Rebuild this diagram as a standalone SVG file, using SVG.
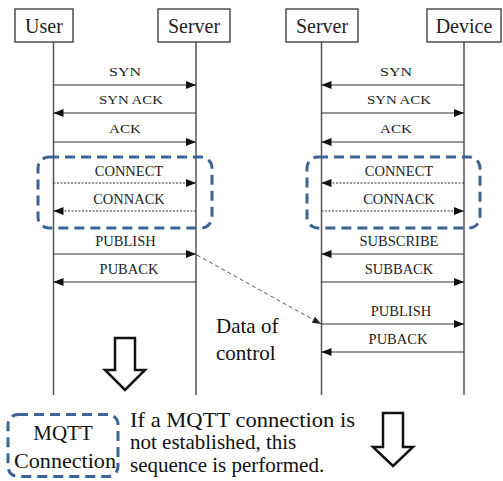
<svg xmlns="http://www.w3.org/2000/svg" width="503" height="481" viewBox="0 0 503 481" font-family="'Liberation Serif', 'Times New Roman', serif">
<style>
text{font-family:'Liberation Serif','Times New Roman',serif}
.box{fill:#fff;stroke:#333;stroke-width:1.3}
.hd{font-size:20px;fill:#222;text-anchor:middle}
.life{stroke:#555;stroke-width:1.5}
.msg{stroke:#333;stroke-width:1.2;fill:none}
.dot{stroke:#333;stroke-width:1;stroke-dasharray:2 1.5;fill:none}
.lbl{font-size:14.5px;fill:#222;text-anchor:middle}
.sm{font-size:12.5px}
.grp{fill:none;stroke:#3d6496;stroke-width:3;stroke-dasharray:10 6}
.big{font-size:21px;fill:#111}
.hollow{fill:#fff;stroke:#111;stroke-width:2.5;stroke-linejoin:miter}
</style>
<defs>
<marker id="ah" viewBox="0 0 10 8" refX="10" refY="4" markerWidth="10" markerHeight="8" markerUnits="userSpaceOnUse" orient="auto">
<path d="M0,0 L10,4 L0,8 Z" fill="#111"/>
</marker>
<marker id="ah2" viewBox="0 0 10 8" refX="10" refY="4" markerWidth="9" markerHeight="7" markerUnits="userSpaceOnUse" orient="auto">
<path d="M0,0 L10,4 L0,8 Z" fill="#222"/>
</marker>
</defs>

<g id="user">
<line class="life" x1="53.5" y1="42" x2="53.5" y2="395"/>
<rect class="box" x="15" y="9" width="58" height="33"/>
<text class="hd" x="44" y="33">User</text>
</g>
<g id="server-left">
<line class="life" x1="196" y1="42" x2="196" y2="395"/>
<rect class="box" x="158" y="9" width="72" height="33"/>
<text class="hd" x="194" y="33">Server</text>
</g>
<g id="server-right">
<line class="life" x1="321.5" y1="42" x2="321.5" y2="395"/>
<rect class="box" x="286" y="9" width="72" height="33"/>
<text class="hd" x="322" y="33">Server</text>
</g>
<g id="device">
<line class="life" x1="464" y1="42" x2="464" y2="395"/>
<rect class="box" x="427" y="9" width="74" height="33"/>
<text class="hd" x="464" y="33">Device</text>
</g>

<g id="connectors">
<line class="msg" x1="53.5" y1="85" x2="196" y2="85" marker-end="url(#ah)"/>
<line class="msg" x1="196" y1="113" x2="53.5" y2="113" marker-end="url(#ah)"/>
<line class="msg" x1="53.5" y1="142" x2="196" y2="142" marker-end="url(#ah)"/>
<line class="dot" x1="53.5" y1="183" x2="196" y2="183" marker-end="url(#ah)"/>
<line class="dot" x1="196" y1="211" x2="53.5" y2="211" marker-end="url(#ah)"/>
<line class="msg" x1="53.5" y1="254" x2="196" y2="254" marker-end="url(#ah)"/>
<line class="msg" x1="196" y1="282" x2="53.5" y2="282" marker-end="url(#ah)"/>
<line class="msg" x1="464" y1="85" x2="321.5" y2="85" marker-end="url(#ah)"/>
<line class="msg" x1="321.5" y1="113" x2="464" y2="113" marker-end="url(#ah)"/>
<line class="msg" x1="464" y1="142" x2="321.5" y2="142" marker-end="url(#ah)"/>
<line class="dot" x1="464" y1="183" x2="321.5" y2="183" marker-end="url(#ah)"/>
<line class="dot" x1="321.5" y1="211" x2="464" y2="211" marker-end="url(#ah)"/>
<line class="msg" x1="464" y1="254" x2="321.5" y2="254" marker-end="url(#ah)"/>
<line class="msg" x1="321.5" y1="282" x2="464" y2="282" marker-end="url(#ah)"/>
<line class="msg" x1="321.5" y1="324" x2="464" y2="324" marker-end="url(#ah)"/>
<line class="msg" x1="464" y1="352" x2="321.5" y2="352" marker-end="url(#ah)"/>
<line x1="197" y1="255" x2="321" y2="324" stroke="#555" stroke-width="1" stroke-dasharray="4 3" marker-end="url(#ah2)"/>
</g>

<g id="labels">
<text class="lbl sm" x="125" y="76" textLength="32" lengthAdjust="spacingAndGlyphs">SYN</text>
<text class="lbl sm" x="131" y="104" textLength="64" lengthAdjust="spacingAndGlyphs">SYN ACK</text>
<text class="lbl sm" x="125" y="133" textLength="32" lengthAdjust="spacingAndGlyphs">ACK</text>
<text class="lbl" x="129" y="175.5">CONNECT</text>
<text class="lbl" x="129" y="203.5">CONNACK</text>
<text class="lbl" x="125.5" y="245.5">PUBLISH</text>
<text class="lbl" x="129" y="273.5">PUBACK</text>

<text class="lbl sm" x="396" y="76" textLength="32" lengthAdjust="spacingAndGlyphs">SYN</text>
<text class="lbl sm" x="399" y="104" textLength="64" lengthAdjust="spacingAndGlyphs">SYN ACK</text>
<text class="lbl sm" x="396" y="133" textLength="32" lengthAdjust="spacingAndGlyphs">ACK</text>
<text class="lbl" x="399" y="175.5">CONNECT</text>
<text class="lbl" x="399" y="203.5">CONNACK</text>
<text class="lbl" x="399" y="245.5">SUBSCRIBE</text>
<text class="lbl" x="399" y="273.5">SUBBACK</text>
<text class="lbl" x="401" y="316">PUBLISH</text>
<text class="lbl" x="398" y="343.5">PUBACK</text>
</g>

<g id="mqtt-group-left">
<rect class="grp" x="38" y="157" width="174" height="71" rx="11"/>
</g>
<g id="mqtt-group-right">
<rect class="grp" x="307" y="157" width="173" height="71" rx="11"/>
</g>

<g id="data-of-control">
<text class="big" x="216" y="333">Data of</text>
<text class="big" x="216" y="360">control</text>
</g>

<g id="arrow-left">
<path class="hollow" d="M115,338 L135,338 L135,370 L145,370 L125,390 L105,370 L115,370 Z"/>
</g>
<g id="arrow-right">
<path class="hollow" d="M383,413 L403,413 L403,447 L413,447 L393,466 L373,447 L383,447 Z"/>
</g>

<g id="legend">
<rect class="grp" x="8" y="414.5" width="110" height="62" rx="10"/>
<text class="big" x="63" y="440" text-anchor="middle">MQTT</text>
<text class="big" x="65" y="468" text-anchor="middle" textLength="102" lengthAdjust="spacingAndGlyphs">Connection</text>
</g>

<g id="note">
<text class="big" x="130" y="426.5" textLength="225" lengthAdjust="spacingAndGlyphs">If a MQTT connection is</text>
<text class="big" x="130" y="448.5">not established, this</text>
<text class="big" x="130" y="472">sequence is performed.</text>
</g>
</svg>
